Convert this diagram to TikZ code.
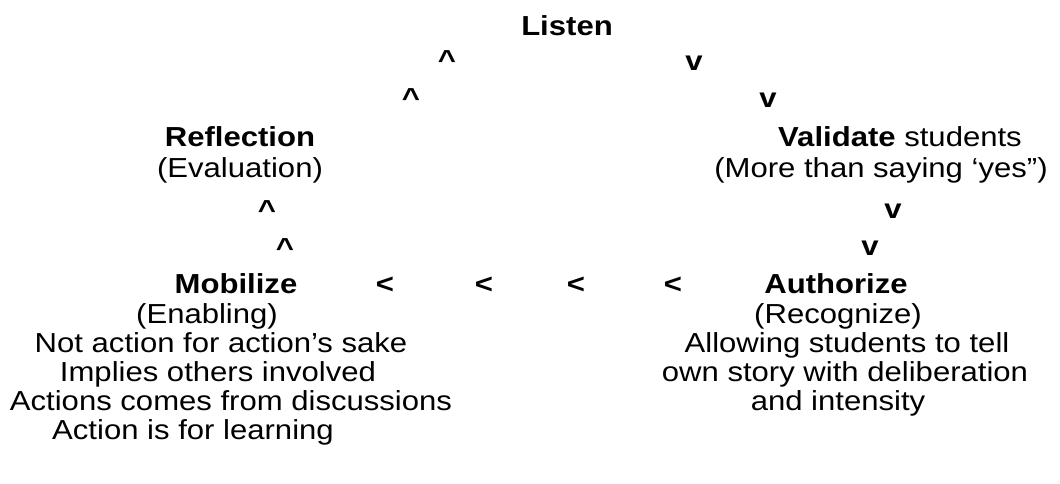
\documentclass[tikz,border=0pt]{standalone}
\usepackage{fontspec}
\setmainfont[FakeStretch=1.13]{Liberation Sans}
\begin{document}
\begin{tikzpicture}[x=1pt,y=-1pt,
  txt/.style={inner sep=0pt, anchor=base, font=\fontsize{27.5}{30}\selectfont},
  hd/.style={txt, font=\fontsize{27.5}{30}\selectfont\bfseries}]
\useasboundingbox (0,0) rectangle (1060,483);
% top
\node[hd] (listen) at (567,35) {Listen};
\node[hd] (up1) at (447,69) {\^{}};
\node[hd] (up2) at (411,107) {\^{}};
\node[hd] (dn1) at (694,70) {v};
\node[hd] (dn2) at (768,107) {v};
% reflection
\node[hd] (refl) at (240,146) {Reflection};
\node[txt] (eval) at (240,177) {(Evaluation)};
\node[hd] (up3) at (267,219) {\^{}};
\node[hd] (up4) at (285,257) {\^{}};
% validate
\node[txt] (valid) at (900,146) {\textbf{Validate} students};
\node[txt] (more) at (881,177) {(More than saying ‘yes”)};
\node[hd] (dn3) at (893,218) {v};
\node[hd] (dn4) at (870,255) {v};
% bottom row
\node[hd] (mob) at (236,293) {Mobilize};
\node[hd] (lt1) at (385,293) {<};
\node[hd] (lt2) at (484,293) {<};
\node[hd] (lt3) at (576,293) {<};
\node[hd] (lt4) at (673,293) {<};
\node[hd] (auth) at (836,293) {Authorize};
% left column
\node[txt] (enab) at (207,323) {(Enabling)};
\node[txt] (m1) at (221,352) {Not action for action’s sake};
\node[txt] (m2) at (218,381) {Implies others involved};
\node[txt] (m3) at (231,410) {Actions comes from discussions};
\node[txt] (m4) at (193,439) {Action is for learning};
% right column
\node[txt] (recog) at (838,323) {(Recognize)};
\node[txt] (a1) at (847,352) {Allowing students to tell};
\node[txt] (a2) at (845,381) {own story with deliberation};
\node[txt] (a3) at (838,410) {and intensity};
\end{tikzpicture}
\end{document}
